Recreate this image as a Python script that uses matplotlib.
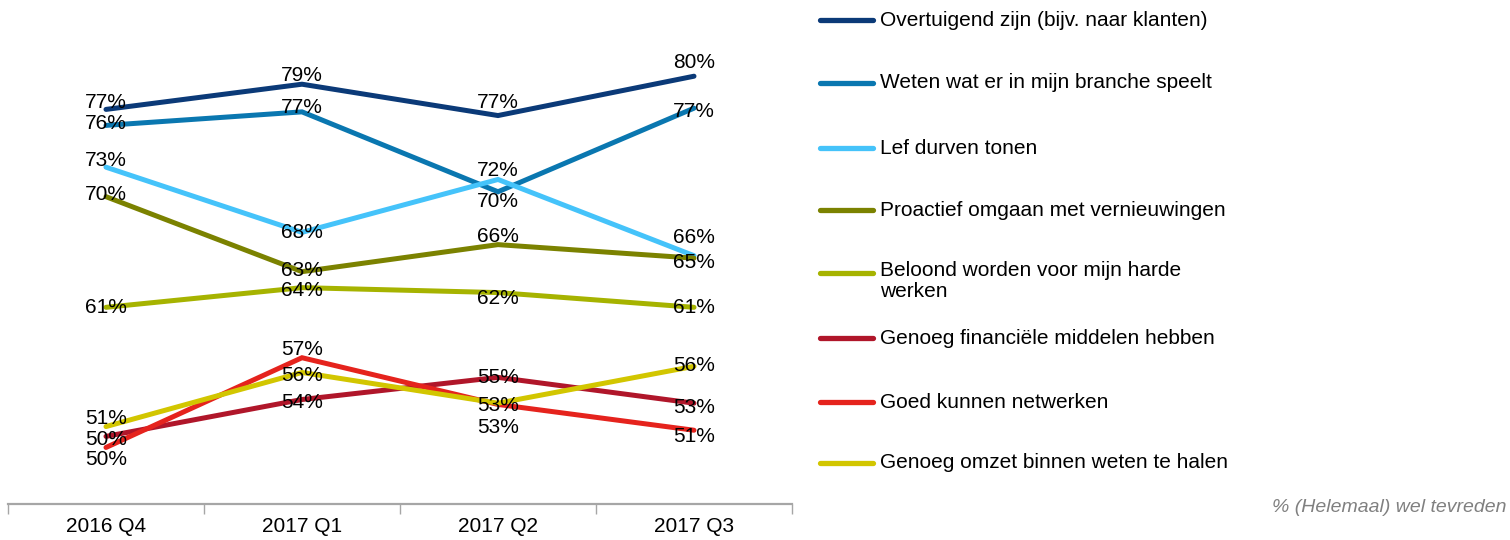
import matplotlib
matplotlib.use("Agg")
import matplotlib.pyplot as plt
from matplotlib.lines import Line2D

plt.rcParams['font.family'] = ['Liberation Sans', 'DejaVu Sans']

# data
quarters = ['2016 Q4', '2017 Q1', '2017 Q2', '2017 Q3']
series_names = [
    'Overtuigend zijn (bijv. naar klanten)',
    'Weten wat er in mijn branche speelt',
    'Lef durven tonen',
    'Proactief omgaan met vernieuwingen',
    'Beloond worden voor mijn harde\nwerken',
    'Genoeg financiële middelen hebben',
    'Goed kunnen netwerken',
    'Genoeg omzet binnen weten te halen',
]
overtuigend = [77.3, 79.35, 76.8, 80.0]
branche = [76.0, 77.1, 70.6, 77.4]
lef = [72.6, 67.3, 71.6, 65.4]
proactief = [70.2, 64.1, 66.3, 65.2]
beloond = [61.2, 62.8, 62.4, 61.2]
financieel = [50.7, 53.7, 55.5, 53.4]
netwerken = [49.8, 57.1, 53.3, 51.2]
omzet = [51.5, 55.9, 53.4, 56.4]

# printed data labels (%)
lbl_overtuigend = [77, 79, 77, 80]
lbl_branche = [76, 77, 70, 77]
lbl_lef = [73, 68, 72, 66]
lbl_proactief = [70, 63, 66, 65]
lbl_beloond = [61, 64, 62, 61]
lbl_financieel = [50, 54, 55, 53]
lbl_netwerken = [50, 57, 53, 51]
lbl_omzet = [51, 56, 53, 56]

values = [overtuigend, branche, lef, proactief, beloond, financieel, netwerken, omzet]
labels = [lbl_overtuigend, lbl_branche, lbl_lef, lbl_proactief, lbl_beloond,
          lbl_financieel, lbl_netwerken, lbl_omzet]

colors = ['#0B3A78', '#0A77B0', '#45C3FA', '#7B8200', '#A6B300',
          '#B0162A', '#E5231D', '#D2C600']

# vertical label shift in pixels (down positive)
label_dy = [
    [-7, -9, -13, -14],
    [-2, -4, 10, 3],
    [-7, 0, -9, -18],
    [-2, -1, -8, 4],
    [0, 3, 6, 0],
    [3, 3, 0, 4],
    [12, -8, 23, 6],
    [-8, 3, 2, -1],
]

W, H = 1510, 540
fig = plt.figure(figsize=(W / 100, H / 100), dpi=100)
ax = fig.add_axes([8 / W, 36 / H, 784 / W, 504 / H])

x = list(range(len(quarters)))
for vals, lbls, col, dys in zip(values, labels, colors, label_dy):
    ax.plot(x, vals, color=col, lw=3.6, solid_capstyle='round', solid_joinstyle='miter')
    for xi, v, l, dy in zip(x, vals, lbls, dys):
        ax.annotate(f'{l}%', (xi, v), xytext=(0, -dy * 0.72), textcoords='offset points',
                    ha='center', va='center', fontsize=15, color='black')

ax.set_xlim(-0.5, 3.5)
ax.set_ylim(45.2, 86.2)
for s in ['top', 'right', 'left']:
    ax.spines[s].set_visible(False)
ax.spines['bottom'].set_color('#A6A6A6')
ax.spines['bottom'].set_linewidth(1.6)
ax.set_yticks([])
ax.set_xticks([-0.5, 0.5, 1.5, 2.5, 3.5])
ax.set_xticklabels([])
ax.tick_params(axis='x', which='major', length=7, width=1, color='#A6A6A6', direction='out')
ax.set_xticks(x, minor=True)
ax.set_xticklabels(quarters, minor=True, fontsize=15)
ax.tick_params(axis='x', which='minor', length=0, pad=9)

# legend drawn by hand
row_y = [20, 83, 148, 210, 273, 338, 402, 463]
for name, col, yy in zip(series_names, colors, row_y):
    fy = 1 - yy / H
    fig.add_artist(Line2D([820 / W, 873 / W], [fy, fy], color=col, lw=3.8,
                          solid_capstyle='round', transform=fig.transFigure))
    if '\n' in name:
        fig.text(880 / W, 1 - (yy - 12) / H, name, ha='left', va='top', fontsize=15,
                 linespacing=1.15)
    else:
        fig.text(880 / W, fy, name, ha='left', va='center', fontsize=15)

fig.text(1506 / W, 1 - 508 / H, '% (Helemaal) wel tevreden', ha='right', va='center',
         fontsize=14, style='italic', color='#808080')

fig.savefig('out.png', dpi=100)
